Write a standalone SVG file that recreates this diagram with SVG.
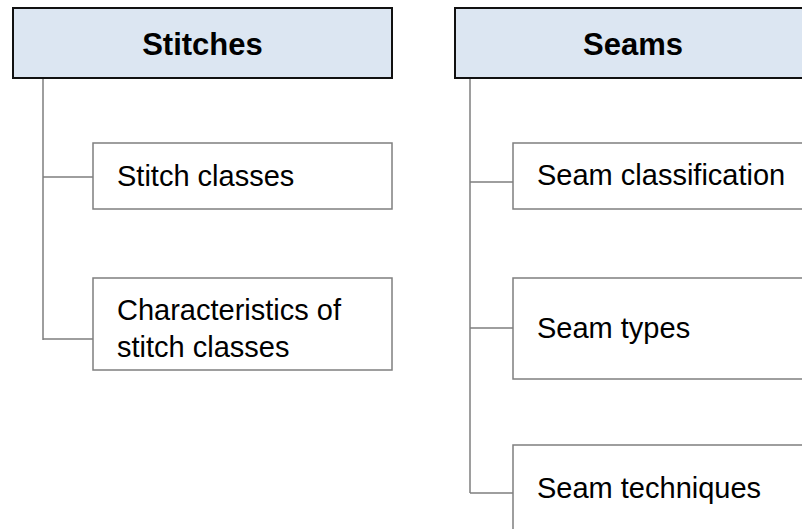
<svg xmlns="http://www.w3.org/2000/svg" width="802" height="529" viewBox="0 0 802 529">
<style>
.hdr{fill:#DCE6F2;stroke:#111;stroke-width:2}
.hdt{font-family:"Liberation Sans",Arial,sans-serif;font-weight:bold;font-size:31px;fill:#000;text-anchor:middle}
.box{fill:#fff;stroke:#7f7f7f;stroke-width:1.5}
.txt{font-family:"Liberation Sans",Arial,sans-serif;font-size:29px;fill:#000}
.con{fill:none;stroke:#7f7f7f;stroke-width:1.5}
</style>
<rect width="802" height="529" fill="#fff"/>
<g id="connectors">
<path class="con" d="M43 78V340M43 177H93M43 339H93"/>
<path class="con" d="M470 78V493M470 182H513M470 328H513M470 493H513"/>
</g>
<g id="stitches"><rect class="hdr" x="13" y="8" width="379" height="70"/><text class="hdt" x="202.5" y="55">Stitches</text></g>
<g id="seams"><rect class="hdr" x="455" y="8" width="360" height="70"/><text class="hdt" x="633" y="55">Seams</text></g>
<g id="stitch-classes"><rect class="box" x="93" y="143" width="299" height="66"/><text class="txt" x="117" y="186">Stitch classes</text></g>
<g id="characteristics"><rect class="box" x="93" y="278" width="299" height="92"/><text class="txt" x="117" y="320">Characteristics of</text><text class="txt" x="117" y="357">stitch classes</text></g>
<g id="seam-classification"><rect class="box" x="513" y="143" width="300" height="66"/><text class="txt" x="537" y="185">Seam classification</text></g>
<g id="seam-types"><rect class="box" x="513" y="278" width="300" height="101"/><text class="txt" x="537" y="338">Seam types</text></g>
<g id="seam-techniques"><rect class="box" x="513" y="445" width="300" height="100"/><text class="txt" x="537" y="498">Seam techniques</text></g>
</svg>
